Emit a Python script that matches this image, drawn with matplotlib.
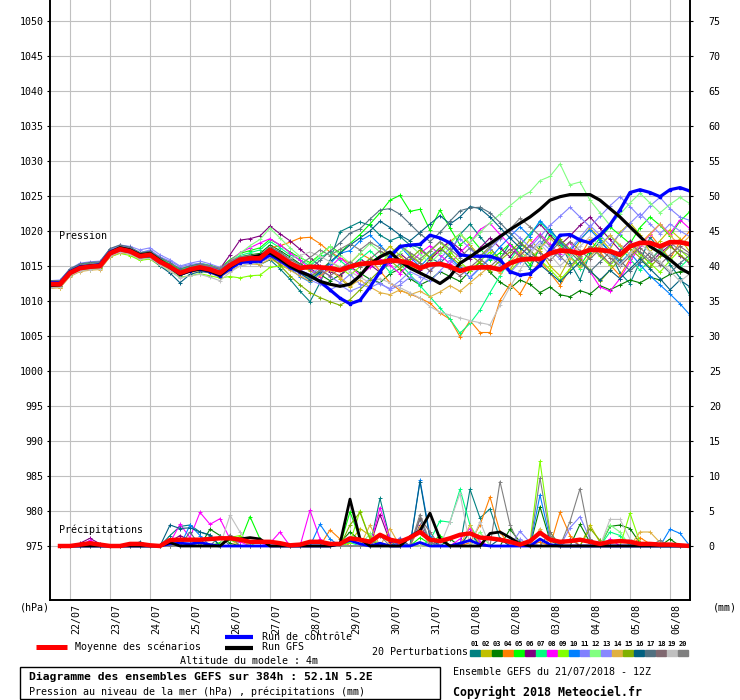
import matplotlib
matplotlib.use('Agg')
import matplotlib.pyplot as plt
import matplotlib.transforms as mtransforms
from matplotlib.lines import Line2D
from matplotlib.patches import Rectangle

plt.rcParams['font.family'] = ['DejaVu Sans Mono', 'DejaVu Sans']

# ---------------- data ----------------
HOURS = list(range(0, 385, 6))            # 21/07 12Z -> 06/08 12Z
PREC_HOURS = HOURS[1:]
DATES = ['22/07', '23/07', '24/07', '25/07', '26/07', '27/07', '28/07', '29/07',
         '30/07', '31/07', '01/08', '02/08', '03/08', '04/08', '05/08', '06/08']
DATE_HOURS = [12 + 24 * k for k in range(16)]
PRESS_TICKS = list(range(975, 1051, 5))
MM_TICKS = list(range(0, 76, 5))
MEMBER_LABELS = ['%02d' % (k + 1) for k in range(20)]
MEMBER_COLORS = ['#008080', '#c0c000', '#008000', '#ff8000', '#00ff00', '#800080',
                 '#00ff80', '#ff00ff', '#80ff00', '#0080ff', '#8080ff', '#80ff80',
                 '#8888ff', '#e0b040', '#80b000', '#006080', '#507080', '#806870',
                 '#c0c0c0', '#808080']

MEAN_P = [1012.4, 1012.4, 1014.0, 1014.7, 1014.9, 1015.0, 1016.8, 1017.4, 1017.1, 1016.4,
          1016.6, 1015.6, 1014.9, 1014.0, 1014.5, 1014.8, 1014.5, 1014.0, 1015.1, 1015.9,
          1016.1, 1016.1, 1017.3, 1016.4, 1015.4, 1014.7, 1014.9, 1014.8, 1014.7, 1014.4,
          1014.9, 1015.3, 1015.4, 1015.5, 1015.8, 1015.7, 1015.4, 1014.7, 1015.2, 1015.3,
          1014.9, 1014.3, 1014.7, 1014.8, 1014.8, 1014.5, 1015.4, 1015.9, 1016.0, 1016.0,
          1016.8, 1017.2, 1017.1, 1016.8, 1017.3, 1017.3, 1017.1, 1016.6, 1017.8, 1018.3,
          1018.3, 1017.8, 1018.4, 1018.4, 1018.1]
CTRL_P = [1012.6, 1012.6, 1014.2, 1014.9, 1015.0, 1015.2, 1017.0, 1017.5, 1017.2, 1016.5,
          1016.7, 1015.6, 1014.8, 1013.8, 1014.3, 1014.6, 1014.2, 1013.6, 1014.6, 1015.5,
          1015.6, 1015.7, 1016.6, 1015.8, 1014.8, 1014.2, 1013.6, 1012.8, 1011.6, 1010.4,
          1009.6, 1010.1, 1012.0, 1014.2, 1016.3, 1017.8, 1018.0, 1018.1, 1019.4, 1019.0,
          1018.3, 1016.6, 1016.4, 1016.4, 1016.4, 1015.9, 1014.2, 1013.7, 1013.9, 1015.1,
          1017.3, 1019.4, 1019.5, 1018.7, 1018.3, 1019.4, 1020.9, 1023.0, 1025.5, 1025.9,
          1025.5, 1024.9, 1025.9, 1026.2, 1025.7]
GFS_P = [1012.2, 1012.3, 1014.1, 1014.8, 1015.0, 1015.1, 1016.9, 1017.6, 1017.3, 1016.6,
         1016.8, 1015.8, 1014.9, 1013.8, 1014.3, 1014.6, 1014.3, 1013.7, 1014.9, 1015.8,
         1016.2, 1016.5, 1016.9, 1016.0, 1015.0, 1014.2, 1013.6, 1012.8, 1012.4, 1012.1,
         1012.4, 1013.6, 1015.3, 1016.3, 1017.0, 1015.7, 1014.7, 1014.0, 1013.3, 1012.5,
         1013.5, 1015.4, 1016.3, 1017.3, 1018.2, 1019.2, 1020.2, 1021.1, 1022.0, 1023.1,
         1024.4, 1024.9, 1025.2, 1025.2, 1025.2, 1024.4, 1023.2, 1022.0, 1020.6, 1019.2,
         1017.8, 1016.9, 1015.9, 1014.7, 1013.9]

P01 = [1012.9, 1012.8, 1014.4, 1015.0, 1015.2, 1015.3, 1017.1, 1017.6, 1017.0, 1016.2,
       1016.3, 1015.4, 1014.6, 1013.6, 1014.3, 1014.9, 1014.7, 1014.2, 1015.3, 1015.9,
       1015.6, 1015.2, 1015.9, 1014.6, 1013.1,
       1011.4, 1009.9, 1012.6, 1015.8, 1019.9, 1020.6, 1021.3, 1020.8, 1019.4, 1018.6,
       1019.2, 1018.0, 1017.6, 1016.2, 1015.4, 1016.8, 1019.5, 1021.0, 1019.2, 1017.5,
       1016.0, 1018.2, 1016.4, 1014.6, 1017.8, 1020.3, 1018.4, 1015.5, 1013.0, 1016.8,
       1018.5, 1017.0, 1014.0, 1012.5, 1015.6, 1019.1, 1017.4, 1015.2, 1013.3, 1010.8]
P02 = [1012.0, 1011.9, 1013.6, 1014.5, 1014.6, 1014.7, 1016.3, 1016.9, 1016.8, 1016.0,
       1016.2, 1015.3, 1014.5, 1013.7, 1014.2, 1014.4, 1014.0, 1013.6, 1014.8, 1015.6,
       1015.8, 1015.9, 1016.8, 1016.2, 1015.6,
       1015.0, 1014.3, 1013.5, 1014.6, 1013.2, 1012.0, 1013.5, 1015.2, 1016.4, 1017.8,
       1016.5, 1015.0, 1014.2, 1016.0, 1017.2, 1018.5, 1019.6, 1018.0, 1016.4, 1017.5,
       1015.8, 1014.4, 1016.9, 1018.8, 1017.2, 1015.0, 1013.6, 1016.2, 1018.6, 1020.4,
       1019.0, 1017.4, 1019.8, 1021.2, 1019.5, 1017.0, 1018.6, 1020.2, 1018.9, 1017.0]
P03 = [1012.6, 1012.7, 1014.3, 1014.9, 1015.1, 1015.1, 1016.9, 1017.5, 1017.3, 1016.7,
       1016.8, 1015.9, 1015.1, 1014.3, 1014.8, 1015.1, 1014.8, 1014.2, 1015.4, 1016.3,
       1016.6, 1016.8, 1018.0, 1017.2, 1016.3,
       1015.3, 1014.6, 1013.8, 1012.9, 1013.7, 1014.9, 1014.0, 1013.1, 1012.6, 1013.9,
       1014.6, 1013.2, 1012.3, 1013.0, 1014.2, 1013.5, 1012.8, 1014.3, 1015.5, 1014.1,
       1012.7, 1011.8, 1013.0, 1012.4, 1011.2, 1012.0, 1010.9, 1010.6, 1011.5, 1011.0,
       1012.2, 1011.6, 1012.3, 1013.0, 1012.6, 1013.4, 1013.0, 1013.8, 1014.2, 1014.1]
P04 = [1012.1, 1012.2, 1013.8, 1014.6, 1014.8, 1014.9, 1016.6, 1017.3, 1017.0, 1016.3,
       1016.4, 1015.3, 1014.6, 1013.8, 1014.4, 1014.7, 1014.3, 1013.9, 1015.0, 1015.7,
       1015.9, 1016.4, 1017.6, 1017.9, 1018.4,
       1019.0, 1019.1, 1018.2, 1017.0, 1016.2, 1015.4, 1016.8, 1016.0, 1014.3, 1012.6,
       1011.5, 1011.0, 1010.4, 1009.7, 1008.3, 1007.4, 1004.9, 1007.2, 1005.5, 1005.5,
       1010.1, 1012.4, 1011.0, 1013.5, 1015.8, 1014.0, 1012.2, 1014.6, 1016.4, 1018.8,
       1017.0, 1015.2, 1013.6, 1016.0, 1018.2, 1019.6, 1017.8, 1016.0, 1018.5, 1020.0]
P05 = [1012.8, 1012.9, 1014.5, 1015.2, 1015.4, 1015.5, 1017.3, 1017.9, 1017.6, 1016.9,
       1017.1, 1016.1, 1015.3, 1014.5, 1015.0, 1015.4, 1015.1, 1014.7, 1015.9, 1016.8,
       1017.2, 1017.6, 1018.8, 1018.0, 1017.0,
       1016.2, 1015.5, 1016.6, 1017.8, 1016.9, 1018.2, 1019.5, 1021.0, 1022.6, 1024.4,
       1025.1, 1022.8, 1023.1, 1020.1, 1023.0, 1020.4, 1018.0, 1019.2, 1017.5, 1015.8,
       1016.9, 1018.2, 1016.8, 1015.2, 1017.6, 1019.3, 1018.0, 1016.4, 1015.0, 1017.2,
       1019.0, 1020.6, 1019.4, 1018.2, 1020.5, 1022.0, 1020.8, 1019.3, 1021.4, 1022.8]
P06 = [1012.3, 1012.5, 1014.1, 1014.8, 1015.0, 1015.0, 1016.9, 1017.6, 1017.3, 1016.6,
       1016.9, 1015.9, 1015.2, 1014.3, 1014.7, 1015.0, 1014.7, 1014.6, 1016.6, 1018.7,
       1018.9, 1019.3, 1020.7, 1019.6, 1018.6,
       1017.4, 1016.2, 1015.0, 1014.2, 1013.6, 1014.8, 1016.0, 1015.2, 1014.1, 1015.5,
       1016.8, 1015.6, 1014.4, 1015.9, 1017.3, 1018.6, 1017.4, 1016.0, 1017.6, 1019.0,
       1017.6, 1016.3, 1018.0, 1019.6, 1021.0, 1019.4, 1018.0, 1019.3, 1020.8, 1022.0,
       1020.4, 1018.8, 1017.2, 1018.6, 1016.8, 1015.4, 1016.8, 1018.0, 1016.5, 1015.3]
P07 = [1012.5, 1012.6, 1014.2, 1014.9, 1015.1, 1015.2, 1017.0, 1017.6, 1017.4, 1016.7,
       1016.9, 1015.9, 1015.2, 1014.4, 1014.9, 1015.2, 1014.9, 1014.4, 1015.6, 1016.5,
       1016.9, 1017.3, 1018.5, 1017.6, 1016.6,
       1015.9, 1015.0, 1016.2, 1017.0, 1015.8, 1014.6, 1016.0, 1017.2, 1015.8, 1014.1,
       1015.3, 1013.8, 1012.2, 1010.6, 1009.0, 1007.4, 1005.4, 1006.8, 1008.7, 1011.2,
       1013.6, 1015.8, 1017.9, 1019.6, 1021.3, 1019.8, 1018.2, 1016.5, 1014.6, 1016.3,
       1018.0, 1019.4, 1017.8, 1016.0, 1014.4, 1015.8, 1017.4, 1016.0, 1014.8, 1016.2]
P08 = [1012.2, 1012.3, 1013.9, 1014.6, 1014.9, 1015.0, 1016.8, 1017.4, 1017.2, 1016.5,
       1016.7, 1015.7, 1015.0, 1014.2, 1014.7, 1015.0, 1014.8, 1014.4, 1015.7, 1016.9,
       1017.6, 1018.3, 1018.9, 1018.0, 1016.9,
       1015.8, 1014.6, 1013.5, 1014.8, 1016.2, 1015.0, 1013.6, 1014.8, 1016.0, 1015.1,
       1013.9, 1015.4, 1016.8, 1017.9, 1016.6, 1015.3, 1016.9, 1018.3, 1020.2, 1021.1,
       1019.5, 1018.0, 1016.5, 1018.0, 1019.6, 1018.1, 1016.7, 1018.4, 1016.2, 1014.2,
       1012.0, 1011.4, 1013.2, 1015.6, 1017.8, 1019.5, 1021.0, 1019.6, 1021.6, 1020.3]
P09 = [1012.0, 1012.0, 1013.6, 1014.3, 1014.5, 1014.6, 1016.3, 1016.8, 1016.5, 1015.8,
       1016.0, 1015.0, 1014.3, 1013.4, 1013.6, 1013.9, 1013.6, 1013.3, 1013.5, 1013.3,
       1013.6, 1013.7, 1014.8, 1015.0, 1014.6,
       1014.0, 1013.2, 1014.4, 1015.6, 1014.8, 1013.7, 1014.9, 1016.1, 1015.3, 1016.8,
       1018.0, 1016.7, 1015.5, 1017.1, 1018.4, 1017.0, 1015.6, 1014.3, 1015.7, 1017.0,
       1015.6, 1014.2, 1015.8, 1017.2, 1015.9, 1014.5, 1013.0, 1014.6, 1016.3, 1017.8,
       1016.4, 1015.1, 1016.6, 1018.0, 1016.7, 1015.4, 1014.1, 1015.8, 1017.3, 1016.0]
P10 = [1012.6, 1012.5, 1014.1, 1014.8, 1015.0, 1015.1, 1016.9, 1017.5, 1017.2, 1016.5,
       1016.7, 1015.7, 1015.0, 1014.0, 1014.6, 1015.0, 1014.6, 1014.1, 1015.3, 1016.0,
       1016.0, 1015.8, 1016.6, 1015.6, 1014.6,
       1013.5, 1012.7, 1014.0, 1015.3, 1016.8, 1017.2, 1018.6, 1019.4, 1018.0, 1016.5,
       1017.8, 1016.3, 1014.9, 1016.4, 1017.6, 1016.2, 1014.8, 1013.3, 1014.7, 1016.1,
       1017.7, 1019.2, 1020.6, 1019.2, 1021.5, 1020.0, 1018.6, 1017.2, 1018.8, 1020.2,
       1018.7, 1017.0, 1015.4, 1016.9, 1015.2, 1013.6, 1012.3, 1011.0, 1009.6, 1008.0]
P11 = [1012.7, 1012.8, 1014.3, 1015.1, 1015.3, 1015.5, 1017.3, 1017.9, 1017.6, 1016.9,
       1017.3, 1016.3, 1015.7, 1014.9, 1015.2, 1015.4, 1015.0, 1014.6, 1015.6, 1016.2,
       1016.3, 1016.2, 1017.0, 1016.2, 1015.3,
       1014.4, 1013.8, 1014.7, 1013.5, 1012.6, 1013.8, 1012.4, 1011.9, 1012.6, 1011.6,
       1012.3, 1013.4, 1012.6, 1014.4, 1016.0, 1017.6, 1018.9, 1017.5, 1016.0, 1017.4,
       1018.9, 1020.3, 1019.0, 1017.7, 1019.2, 1020.8, 1022.1, 1023.4, 1022.0, 1020.6,
       1022.1, 1023.6, 1024.9, 1023.5, 1022.0, 1023.6, 1024.8, 1023.2, 1022.0, 1021.5]
P12 = [1012.3, 1012.4, 1014.0, 1014.7, 1014.8, 1014.9, 1016.6, 1017.2, 1016.9, 1016.3,
       1016.5, 1015.6, 1015.0, 1014.1, 1014.6, 1015.0, 1014.7, 1014.3, 1015.6, 1016.8,
       1017.9, 1018.8, 1020.4, 1019.0, 1017.6,
       1016.4, 1015.2, 1016.5, 1017.8, 1016.6, 1015.4, 1016.8, 1018.2, 1017.0, 1015.8,
       1016.9, 1018.0, 1016.7, 1015.4, 1016.8, 1018.2, 1019.6, 1018.3, 1019.8, 1021.2,
       1022.4, 1023.6, 1024.8, 1025.6, 1027.2, 1027.8, 1029.6, 1026.6, 1027.0, 1024.4,
       1022.6, 1020.8, 1022.4, 1024.0, 1025.4, 1024.0, 1022.6, 1023.8, 1024.8, 1023.9]
P13 = [1012.9, 1013.0, 1014.6, 1015.4, 1015.6, 1015.7, 1017.4, 1018.0, 1017.8, 1017.3,
       1017.6, 1016.6, 1015.9, 1015.0, 1015.4, 1015.7, 1015.3, 1014.8, 1015.4, 1015.8,
       1015.7, 1015.5, 1016.2, 1015.5, 1014.7,
       1013.9, 1013.0, 1012.4, 1011.6, 1012.3, 1011.4, 1012.0, 1013.2, 1012.4, 1011.8,
       1012.9, 1014.2, 1013.5, 1012.8, 1014.3, 1015.8, 1014.6, 1013.4, 1014.8, 1016.3,
       1015.2, 1014.0, 1015.6, 1017.1, 1018.6, 1017.3, 1016.0, 1017.5, 1019.1, 1020.8,
       1019.4, 1018.0, 1019.6, 1021.1, 1022.5, 1021.0, 1019.6, 1021.0, 1020.0, 1019.2]
P14 = [1011.8, 1011.9, 1013.5, 1014.2, 1014.4, 1014.5, 1016.3, 1016.9, 1016.7, 1016.0,
       1016.2, 1015.2, 1014.6, 1013.7, 1014.1, 1014.3, 1014.0, 1013.4, 1014.3, 1015.0,
       1015.3, 1015.2, 1016.0, 1015.3, 1014.4,
       1013.6, 1012.8, 1013.7, 1014.5, 1013.4, 1012.2, 1013.0, 1012.0, 1011.2, 1010.9,
       1011.6, 1010.9, 1011.4, 1010.6, 1011.3, 1012.2, 1011.4, 1012.6, 1013.8, 1015.0,
       1014.0, 1015.6, 1017.0, 1016.0, 1017.5, 1019.0, 1017.6, 1016.2, 1014.8, 1016.4,
       1017.8, 1019.4, 1018.0, 1016.6, 1018.0, 1019.6, 1021.0, 1019.4, 1017.9, 1019.3]
P15 = [1012.1, 1012.1, 1013.7, 1014.4, 1014.6, 1014.7, 1016.5, 1017.0, 1016.8, 1016.1,
       1016.3, 1015.4, 1014.7, 1013.9, 1014.3, 1014.5, 1014.2, 1013.8, 1014.9, 1015.7,
       1016.0, 1015.8, 1016.4, 1015.1, 1013.6,
       1012.3, 1011.2, 1010.5, 1009.9, 1009.4, 1010.2, 1011.6, 1013.0, 1014.4, 1015.8,
       1014.6, 1016.0, 1017.3, 1016.2, 1017.6, 1016.4, 1015.2, 1016.6, 1015.5, 1014.3,
       1015.8, 1017.0, 1018.4, 1017.2, 1015.8, 1017.3, 1018.8, 1017.4, 1016.0, 1014.4,
       1012.8, 1014.4, 1016.0, 1017.5, 1016.2, 1014.8, 1016.4, 1017.8, 1016.6, 1015.5]
P16 = [1012.7, 1012.7, 1014.2, 1014.8, 1015.0, 1015.0, 1016.7, 1017.2, 1016.9, 1016.1,
       1016.2, 1015.0, 1014.0, 1012.6, 1013.8, 1014.2, 1014.1, 1014.2, 1015.2, 1016.0,
       1016.2, 1016.3, 1017.1, 1016.3, 1015.0,
       1014.0, 1013.0, 1014.2, 1015.6, 1016.8, 1018.0, 1019.0, 1020.0, 1021.4, 1020.5,
       1019.4, 1018.6, 1019.8, 1021.0, 1022.2, 1021.0, 1022.0, 1023.5, 1023.2, 1022.0,
       1020.5, 1019.0, 1017.6, 1016.4, 1015.2, 1014.0, 1012.8, 1014.2, 1015.6, 1014.3,
       1013.0, 1014.4, 1013.2, 1014.6, 1016.0, 1014.6, 1013.2, 1011.6, 1013.0, 1012.0]
P17 = [1012.9, 1012.9, 1014.6, 1015.3, 1015.5, 1015.6, 1017.5, 1018.0, 1017.7, 1016.9,
       1017.1, 1016.2, 1015.5, 1014.6, 1015.0, 1015.3, 1015.0, 1014.5, 1015.4, 1016.2,
       1016.4, 1016.6, 1017.7, 1017.0, 1016.0,
       1015.2, 1014.6, 1015.8, 1017.1, 1018.3, 1019.7, 1020.3, 1021.7, 1023.0, 1023.2,
       1022.4, 1021.0, 1019.6, 1018.5, 1019.8, 1021.4, 1022.9, 1023.3, 1023.4, 1022.6,
       1021.2, 1019.7, 1018.3, 1017.0, 1015.6, 1017.0, 1018.4, 1017.0, 1015.6, 1014.2,
       1015.6, 1017.0, 1015.8, 1014.3, 1015.6, 1016.9, 1015.4, 1014.0, 1015.4, 1016.6]
P18 = [1012.2, 1012.2, 1013.8, 1014.5, 1014.7, 1014.8, 1016.6, 1017.2, 1016.9, 1016.2,
       1016.4, 1015.4, 1014.7, 1013.8, 1014.3, 1014.6, 1014.2, 1013.6, 1014.8, 1015.6,
       1015.7, 1015.6, 1016.5, 1015.6, 1014.7,
       1014.0, 1013.5, 1014.4, 1013.6, 1014.6, 1015.6, 1014.8, 1016.0, 1017.2, 1016.2,
       1015.3, 1016.4, 1015.4, 1014.3, 1015.6, 1014.6, 1013.6, 1014.8, 1016.0, 1014.9,
       1016.2, 1017.4, 1016.4, 1018.0, 1016.9, 1015.8, 1017.2, 1018.5, 1017.2, 1016.0,
       1017.4, 1016.2, 1015.0, 1016.4, 1017.6, 1016.3, 1015.2, 1016.6, 1017.8, 1016.8]
P19 = [1011.9, 1012.0, 1013.6, 1014.3, 1014.5, 1014.6, 1016.4, 1017.0, 1016.7, 1016.0,
       1016.1, 1015.1, 1014.3, 1013.3, 1013.6, 1013.8, 1013.4, 1012.9, 1014.1, 1015.0,
       1015.3, 1015.5, 1016.6, 1016.2, 1016.1,
       1016.5, 1017.0, 1016.4, 1015.6, 1014.9, 1014.2, 1013.4, 1012.6, 1013.2, 1012.6,
       1011.9, 1011.2, 1010.4, 1009.2, 1008.4, 1008.0, 1007.6, 1007.2, 1006.9, 1006.6,
       1009.4, 1012.0, 1014.4, 1016.8, 1018.2, 1016.6, 1015.0, 1016.4, 1017.8, 1019.2,
       1018.0, 1016.6, 1015.2, 1016.8, 1018.2, 1017.0, 1015.6, 1014.3, 1012.8, 1013.9]
P20 = [1012.8, 1012.9, 1014.4, 1015.1, 1015.3, 1015.4, 1017.2, 1017.8, 1017.5, 1016.7,
       1016.9, 1015.9, 1015.1, 1014.2, 1014.8, 1015.2, 1015.0, 1014.7, 1015.7, 1016.3,
       1016.5, 1016.6, 1017.6, 1016.8, 1015.9,
       1015.2, 1016.2, 1017.3, 1016.5, 1017.4, 1018.2, 1017.3, 1018.4, 1017.6, 1016.8,
       1017.9, 1016.9, 1016.0, 1017.2, 1018.5, 1017.4, 1016.2, 1017.6, 1016.4, 1017.8,
       1019.0, 1020.3, 1021.8, 1020.6, 1019.3, 1017.8, 1016.4, 1015.0, 1016.4, 1017.8,
       1016.6, 1015.4, 1016.8, 1018.2, 1017.0, 1015.8, 1017.2, 1018.4, 1017.2, 1016.5]

# precipitation (mm per 6 h), from +6 h to +384 h
MEAN_R = [0, 0, 0.2, 0.4, 0.2, 0, 0, 0.3, 0.3, 0.1,
          0, 0.85, 0.9, 0.9, 0.9, 1.0, 1.1, 1.1, 0.9, 0.6,
          0.6, 0.6, 0.4, 0.1, 0.2, 0.6, 0.6, 0.3, 0.3, 1.1,
          0.9, 0.6, 1.6, 0.9, 0.6, 1.2, 2.0, 0.9, 0.7, 1.1,
          1.6, 1.8, 1.2, 1.1, 0.9, 0.6, 0.2, 0.7, 1.9, 0.9,
          0.6, 0.7, 0.9, 0.6, 0.3, 0.6, 0.7, 0.6, 0.3, 0.3,
          0.2, 0.2, 0.1, 0.0]
CTRL_R = [0, 0, 0, 0, 0, 0, 0, 0, 0, 0,
          0, 0.3, 0.4, 0.3, 0.5, 0.2, 0, 0, 0, 0,
          0, 0, 0, 0, 0, 0, 0, 0, 0.3, 0.8,
          0.3, 0, 0.4, 0, 0, 0, 0.5, 0, 0, 0,
          0.4, 0.8, 0.2, 0, 0, 0, 0, 0, 1.0, 0.2,
          0, 0, 0, 0, 0, 0, 0, 0, 0, 0,
          0, 0, 0, 0]
GFS_R = [0, 0, 0, 0, 0, 0, 0, 0, 0, 0,
         0, 0.5, 0, 0, 0, 0, 0, 1.2, 1.0, 1.2,
         1.0, 0, 0, 0, 0, 0, 0, 0, 0.3, 6.7,
         1.0, 0, 0, 0, 0, 1.3, 2.2, 4.7, 1.0, 0,
         0, 0, 0, 1.8, 2.0, 1.2, 0.3, 0, 0, 0,
         0, 0, 0, 0, 0, 0, 0, 0, 0, 0,
         0, 0, 0, 0]
R01 = [0, 0, 0, 0, 0, 0, 0, 0, 0, 0,
       0, 1.5, 2.8, 3.0, 2.0, 1.5, 0, 0, 0, 0,
       0, 0, 0, 0, 0, 0, 0, 0, 0, 0,
       0, 0, 6.8, 1.0, 0, 0, 0, 0, 0, 0,
       0, 8.1, 4.0, 5.3, 1.0, 0, 0, 0, 0, 0,
       0, 0, 0, 0, 0, 0, 0, 0, 0.5, 0,
       0, 0, 0, 0]
R02 = [0, 0, 0, 0, 0, 0, 0, 0, 0, 0,
       0, 0, 0, 0, 0, 0, 0, 1.0, 0, 0,
       0, 0, 0, 0, 0, 0, 0, 0, 0, 0.5,
       2.5, 1.5, 0, 0, 0, 0, 0.4, 0, 0, 0,
       0, 2.0, 0.3, 0, 0, 0, 0, 0, 0, 0,
       0, 0, 0, 3.0, 0.5, 0, 0, 0, 0, 0,
       0, 0, 0, 0]
R03 = [0, 0, 0, 0, 0, 0, 0, 0, 0, 0,
       0, 0, 0, 0, 0, 2.4, 1.5, 0.4, 0, 0,
       0, 0, 0, 0, 0, 0, 0, 0, 0.5, 2.0,
       0.8, 0, 0, 0, 0, 0, 0, 0, 0, 1.0,
       0, 0, 0, 0, 0, 2.4, 0.6, 0, 5.6, 0.8,
       0, 0, 3.1, 0.5, 0, 2.8, 3.0, 2.5, 0.4, 0,
       0, 1.0, 0, 0]
R04 = [0, 0, 0, 0, 0, 0, 0, 0, 0, 0,
       0, 0, 0, 0, 0, 0, 0, 0, 0, 0,
       0, 0, 0, 0, 0, 0, 0, 2.3, 1.0, 0,
       0, 0, 1.5, 0.5, 1.0, 0, 0, 0, 0, 0,
       0, 0.5, 3.0, 7.0, 2.0, 0, 0, 0, 0.6, 0,
       4.8, 1.5, 0, 0, 0, 0, 0, 0, 1.2, 0.3,
       0, 0, 0, 0]
R05 = [0, 0, 0, 0, 0, 0, 0, 0, 0, 0,
       0, 0, 0, 0, 0, 0, 0.5, 0.8, 0.6, 4.2,
       1.0, 0, 0, 0, 0, 0, 0, 0, 0, 4.9,
       1.0, 0, 0, 0, 0, 0, 1.2, 0.3, 1.5, 0,
       0, 0, 0, 0, 0, 0, 0, 0, 0, 0,
       0, 0, 0, 0, 0, 0, 0, 0, 0, 0,
       0, 0, 0, 0]
R06 = [0, 0, 0.4, 1.1, 0.3, 0, 0, 0, 0, 0,
       0, 0.6, 1.5, 0.8, 0.5, 0, 0, 0, 0, 0,
       0, 0, 0, 0, 0, 0, 0, 0, 0, 0,
       0, 0, 4.5, 0.6, 0.3, 0, 3.0, 0.5, 0, 0,
       0, 1.0, 0, 0, 0, 0, 0, 0, 0, 0,
       0, 0, 0, 0, 0, 0, 0, 0, 0, 0,
       0, 0, 0, 0]
R07 = [0, 0, 0, 0, 0, 0, 0, 0, 0, 0,
       0, 0, 0, 0, 0, 0, 0, 0, 0, 0,
       0, 0, 0, 0, 0, 0, 0, 0, 0, 0.5,
       0, 0, 0, 0, 0, 0, 0, 0.8, 3.6, 3.4,
       8.1, 3.0, 0.5, 0, 0, 0, 0, 0, 0, 0,
       0, 0, 0, 0, 0, 2.0, 1.5, 0, 0, 0,
       0, 0, 0, 0]
R08 = [0, 0, 0, 0.8, 0, 0, 0, 0, 0, 0,
       0, 0.5, 3.1, 1.2, 4.8, 3.1, 3.9, 1.0, 0.6, 0,
       0, 0.4, 2.0, 0, 0, 5.1, 1.0, 0, 0, 0,
       0, 0, 5.5, 1.0, 0, 0, 0, 0, 0, 0,
       1.0, 2.5, 0.6, 0, 0, 0, 0, 0, 0, 0,
       0, 0, 0, 0, 0, 1.0, 0, 0, 0, 0,
       0, 0, 0, 0]
R09 = [0, 0, 0, 0, 0, 0, 0, 0, 0, 0,
       0, 0, 0, 0, 0, 0, 0, 1.2, 1.5, 0,
       0.8, 0, 0, 0, 0, 0, 0, 0, 0, 0.5,
       5.0, 1.0, 0, 0, 0, 0, 0, 0, 0, 0,
       0, 0, 0, 0, 0, 0, 0, 0.5, 12.1, 2.0,
       0, 0, 0, 0, 0, 0, 0, 4.7, 0.5, 0,
       0, 0, 0, 0]
R10 = [0, 0, 0, 0, 0, 0, 0, 0, 0, 0,
       0, 0, 0, 3.0, 1.5, 0, 0, 0, 0, 0,
       0, 0, 0, 0, 0, 0, 3.1, 1.0, 0, 0,
       0, 0, 0, 0, 0.5, 0, 9.4, 1.5, 0, 0,
       0, 0, 0, 0, 0, 0, 0, 0, 7.3, 1.0,
       0, 0, 0, 0, 0, 0, 0, 0, 0, 0,
       0, 2.4, 1.8, 0]
R11 = [0, 0, 0, 0, 0, 0, 0, 0, 0, 0,
       0, 0, 0, 0, 0, 0, 0, 0, 0, 0,
       0, 0, 0, 0, 0, 0, 0, 0, 0, 0,
       0, 0, 0, 0, 1.2, 0, 0, 0, 0, 0,
       0, 0, 0, 0, 0, 0, 2.1, 0.5, 0, 0,
       0, 2.6, 4.2, 1.0, 0, 0, 0, 0, 0, 0,
       0, 0, 0, 0]
R12 = [0, 0, 0, 0, 0, 0, 0, 0, 0, 0,
       0, 0, 0, 0, 0, 0, 0, 0, 0, 0,
       0, 0, 0, 0, 0, 0, 0, 0, 0, 0,
       0, 1.8, 0, 0, 0, 0, 0, 0, 0, 0,
       0, 0, 2.0, 0, 0, 0, 0, 0, 0, 0,
       0, 0, 0, 0, 0, 3.0, 2.0, 0, 0, 0,
       0, 0, 0, 0]
R13 = [0, 0, 0, 0, 0, 0, 0, 0, 0, 0,
       0, 0, 0, 0, 0.5, 0, 0, 0, 0, 0,
       0, 0, 0, 0, 0, 0, 0, 0, 0, 0,
       0, 0, 0, 0, 0, 1.5, 2.5, 0, 0, 0,
       0, 0, 0, 0, 0, 0, 1.0, 0, 0, 0,
       0, 0, 0, 0, 0.8, 0, 0, 0, 0, 0,
       0, 0, 0, 0]
R14 = [0, 0, 0, 0, 0, 0, 0, 0, 0, 0,
       0, 0, 0, 0, 0, 0, 0, 0, 1.0, 0,
       0, 0, 0, 0, 0, 0, 0, 0, 0, 0,
       0, 3.0, 0, 2.5, 0, 0, 2.8, 0, 0, 0,
       0, 3.0, 0, 0, 0, 0, 0, 0, 2.5, 0,
       0, 0, 0, 0, 0, 0, 0, 0, 2.0, 2.0,
       0.5, 0, 0, 0]
R15 = [0, 0, 0, 0, 0, 0, 0, 0, 0, 0,
       0, 0, 0, 0, 0, 0, 0, 0, 0, 0,
       0, 0, 0, 0, 0, 0, 0, 0, 0, 3.0,
       4.8, 1.0, 0, 0, 0, 0, 0, 0, 0, 0,
       0, 0, 0, 0, 0, 0, 0, 0, 0, 0,
       0, 0, 0, 2.5, 0.8, 0, 0, 0, 0, 0,
       0, 0, 0, 0]
R16 = [0, 0, 0, 0, 0, 0, 0, 0, 0.6, 0,
       0, 3.0, 2.5, 2.6, 2.0, 1.6, 0, 0, 0, 0,
       0, 0, 0, 0, 0, 0, 0, 0, 0, 0,
       0, 0, 0, 0, 0, 0, 9.2, 1.0, 0, 0,
       0, 2.0, 0, 0, 1.0, 0, 0, 0, 0, 0,
       0, 0, 0, 0, 0, 0, 0, 0, 0, 0,
       0, 0, 0, 0]
R17 = [0, 0, 0, 0, 0, 0, 0, 0, 0, 0,
       0, 0, 0, 2.0, 0, 0, 1.5, 0, 0, 0,
       0, 0, 0, 0, 0, 0, 0, 0, 0, 0,
       0, 0, 0, 0, 1.0, 0, 3.8, 0.5, 0, 0,
       0, 0, 0, 0, 0, 0, 0, 0, 0, 0,
       0, 0, 0, 0, 0, 0, 0, 0, 0, 0,
       0, 0, 0, 0]
R18 = [0, 0, 0, 0, 0, 0, 0, 0, 0, 0,
       0, 0, 0, 0, 0, 0, 0, 1.6, 0, 0,
       0, 0, 0, 0, 0, 0, 0, 0, 0, 0,
       0, 0, 0, 0, 0, 0, 4.0, 2.0, 0, 0,
       0, 0, 0, 0, 0, 0, 0, 0, 0, 2.0,
       0, 1.0, 0, 0, 0, 0, 0, 0, 0, 0,
       0, 0, 0, 0]
R19 = [0, 0, 0, 0, 0, 0, 0, 0, 0, 0,
       0, 0, 0, 0, 0, 0, 0, 4.4, 2.0, 0,
       0, 0, 0, 0, 0, 0, 0, 0, 0, 0,
       0, 0, 0, 0, 0, 0, 0, 0, 0, 3.5,
       7.5, 0, 3.5, 0, 0, 0, 0, 0, 0, 0,
       0, 0, 0, 0, 0, 3.8, 3.8, 1.0, 0, 0,
       0, 0, 0, 0]
R20 = [0, 0, 0, 0, 0, 0, 0, 0, 0, 0,
       0, 0, 0, 0, 0, 0, 0, 0, 0, 0,
       0, 0, 0, 0, 0, 0, 0, 0, 0, 0,
       0, 0, 1.5, 0, 0, 0, 4.5, 0.5, 0, 0,
       0, 0, 0, 0, 9.2, 3.0, 0, 0, 9.7, 1.5,
       0, 3.5, 8.2, 1.0, 0, 0, 0, 0, 0, 0,
       0.8, 0, 0, 0]

MEMBERS_P = [P01, P02, P03, P04, P05, P06, P07, P08, P09, P10,
             P11, P12, P13, P14, P15, P16, P17, P18, P19, P20]
MEMBERS_R = [R01, R02, R03, R04, R05, R06, R07, R08, R09, R10,
             R11, R12, R13, R14, R15, R16, R17, R18, R19, R20]

# ---------------- figure ----------------
W, H = 740, 700
fig = plt.figure(figsize=(W / 100, H / 100), dpi=100)
fig.patch.set_facecolor('white')
ax = fig.add_axes([50 / W, 100 / H, 640 / W, 600 / H])

YMIN, YMAX = 1050 - 579 / 7, 1053
ax.set_xlim(0, 384)
ax.set_ylim(YMIN, YMAX)
ax2 = ax.twinx()
ax2.set_ylim(YMIN - 975, YMAX - 975)
ax2.set_xlim(0, 384)

GRID = '#c0c0c0'
ax.set_xticks(DATE_HOURS)
ax.set_xticklabels([])
ax.tick_params(axis='x', length=0)
ax.set_yticks(PRESS_TICKS)
ax.set_yticklabels([str(v) for v in PRESS_TICKS])
ax.tick_params(axis='y', length=2, width=0.8, labelsize=7.2, pad=2.5, colors='black')
ax.grid(True, color=GRID, lw=0.8)
ax.set_axisbelow(True)

ax2.set_yticks(MM_TICKS)
ax2.set_yticklabels([str(v) for v in MM_TICKS])
ax2.tick_params(axis='y', length=2, width=0.8, labelsize=7.2, pad=11.5)
for t in ax2.get_yticklabels():
    t.set_ha('left')

for a in (ax, ax2):
    a.spines['top'].set_visible(False)
ax.spines['right'].set_visible(False)
ax2.spines['left'].set_visible(False)
ax2.spines['bottom'].set_visible(False)
ax.spines['left'].set_linewidth(1.4)
ax.spines['bottom'].set_linewidth(1.4)
ax2.spines['right'].set_linewidth(1.4)

# pressure
for vals, col in zip(MEMBERS_P, MEMBER_COLORS):
    n = min(len(HOURS), len(vals))
    ax.plot(HOURS[:n], vals[:n], color=col, lw=0.8, marker='+', ms=2.5, mew=0.7,
            solid_joinstyle='miter')
ax.plot(HOURS, CTRL_P, color='#0000ff', lw=2.3, marker='s', ms=1.8)
ax.plot(HOURS, GFS_P, color='black', lw=2.3)
ax.plot(HOURS, MEAN_P, color='#ff0000', lw=3.4)

# precipitation
for vals, col in zip(MEMBERS_R, MEMBER_COLORS):
    n = min(len(PREC_HOURS), len(vals))
    ax2.plot(PREC_HOURS[:n], vals[:n], color=col, lw=0.8, marker='+', ms=2.5, mew=0.7)
ax2.plot(PREC_HOURS, CTRL_R, color='#0000ff', lw=2.0)
ax2.plot(PREC_HOURS, GFS_R, color='black', lw=2.0)
ax2.plot(PREC_HOURS, MEAN_R, color='#ff0000', lw=3.2)

# labels inside plot
ax.text(5.4, 1050 - (236 - 21) / 7, 'Pression', fontsize=7.2, va='center', ha='left')
ax.text(5.4, 1050 - (530 - 21) / 7, 'Précipitations', fontsize=7.2, va='center', ha='left')

# date labels
trans = mtransforms.blended_transform_factory(ax.transData, ax.transAxes)
for hh, lab in zip(DATE_HOURS, DATES):
    ax.text(hh + 3.6, -0.006, lab, rotation=90, ha='center', va='top',
            fontsize=7.2, transform=trans)


def ftxt(px, py, s, **kw):
    fig.text(px / W, 1 - py / H, s, va='center', **kw)


ftxt(20, 607, '(hPa)', fontsize=7.2)
ftxt(713, 607, '(mm)', fontsize=7.2)

# legend
def fline(x0, x1, y, col, lw):
    fig.add_artist(Line2D([x0 / W, x1 / W], [1 - y / H, 1 - y / H], color=col, lw=lw,
                          solid_capstyle='butt', transform=fig.transFigure))


fline(36, 67, 647, '#ff0000', 3.6)
ftxt(75, 647, 'Moyenne des scénarios', fontsize=7.2)
fline(225, 253, 637, '#0000ff', 3.0)
ftxt(262, 637, 'Run de contrôle', fontsize=7.2)
fline(225, 253, 648, 'black', 3.0)
ftxt(262, 647, 'Run GFS', fontsize=7.2)
ftxt(372, 652, '20 Perturbations', fontsize=7.2)
for k, (lab, col) in enumerate(zip(MEMBER_LABELS, MEMBER_COLORS)):
    x0 = 470 + k * 10.95
    fig.add_artist(Rectangle((x0 / W, 1 - 656 / H), 10 / W, 6 / H, color=col,
                             transform=fig.transFigure))
    ftxt(x0 + 5, 643.5, lab, fontsize=5.0, ha='center', fontweight='bold')
ftxt(180, 661, 'Altitude du modele : 4m', fontsize=7.2)

fig.add_artist(Rectangle((20 / W, 1 - 699 / H), 420 / W, 32 / H, fill=False,
                         ec='black', lw=1.0, transform=fig.transFigure))
ftxt(29, 677, 'Diagramme des ensembles GEFS sur 384h : 52.1N 5.2E', fontsize=8.2,
     fontweight='bold')
ftxt(29, 692, 'Pression au niveau de la mer (hPa) , précipitations (mm)', fontsize=7.2)
ftxt(453, 672, 'Ensemble GEFS du 21/07/2018 - 12Z', fontsize=7.2)
ftxt(453, 692, 'Copyright 2018 Meteociel.fr', fontsize=8.4, fontweight='bold')

fig.savefig('out.png', dpi=100, facecolor='white')
